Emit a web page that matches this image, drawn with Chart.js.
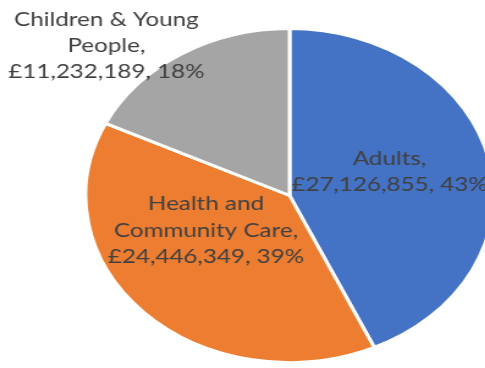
<!DOCTYPE html>
<html><head><meta charset="utf-8">
<script src="https://cdn.jsdelivr.net/npm/chart.js@4/dist/chart.umd.min.js"></script>
<style>
html,body{margin:0;padding:0;background:#fff;overflow:hidden;width:485px;height:368px;}
#wrap{position:absolute;left:0;top:0;width:474px;height:368px;transform:scaleX(1.222);transform-origin:0 0;}
</style></head>
<body>
<div id="wrap"><canvas id="c" width="474" height="368"></canvas></div>
<script>
const categories = ["Adults", "Health and Community Care", "Children & Young People"];
const amounts = [27126855, 24446349, 11232189];
const percents = [43, 39, 18];
const colours = ["#4472C4", "#ED7D31", "#A5A5A5"];
const labelLines = [
  ["Adults,", "£27,126,855, 43%"],
  ["Health and", "Community Care,", "£24,446,349, 39%"],
  ["Children & Young", "People,", "£11,232,189, 18%"]
];
// label anchor: angle (deg clockwise from top) and distance in radius units
const labelAnchor = [[73.7, 0.51], [243, 0.46], [315, 1.27]];

const labelPlugin = {
  id: 'pieLabels',
  afterDatasetsDraw(chart) {
    const ctx = chart.ctx;
    const meta = chart.getDatasetMeta(0);
    ctx.save();
    ctx.font = '19.8px Lato';
    ctx.fillStyle = '#404040';
    ctx.textAlign = 'center';
    ctx.textBaseline = 'middle';
    const lh = 26.3;
    meta.data.forEach((arc, i) => {
      const r = arc.outerRadius;
      const a = labelAnchor[i][0] * Math.PI / 180;
      const cx = arc.x + Math.sin(a) * r * labelAnchor[i][1];
      const cy = arc.y - Math.cos(a) * r * labelAnchor[i][1];
      const lines = labelLines[i];
      const y0 = cy - (lines.length - 1) * lh / 2;
      lines.forEach((t, k) => ctx.fillText(t, cx, y0 + k * lh));
    });
    ctx.restore();
  }
};

new Chart(document.getElementById('c'), {
  type: 'pie',
  data: {
    labels: categories,
    datasets: [{
      data: amounts,
      backgroundColor: colours,
      borderColor: '#ffffff',
      borderWidth: 3
    }]
  },
  options: {
    responsive: false,
    animation: false,
    layout: { padding: { top: 27, bottom: 4, left: 0, right: 0 } },
    plugins: { legend: { display: false }, tooltip: { enabled: false } }
  },
  plugins: [labelPlugin]
});
</script>
</body></html>
